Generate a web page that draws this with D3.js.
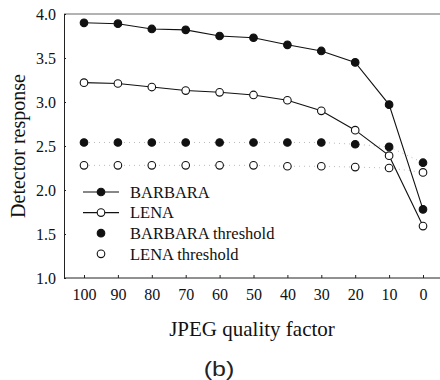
<!DOCTYPE html>
<html><head><meta charset="utf-8">
<script src="https://cdn.jsdelivr.net/npm/d3@7"></script>
<style>body{margin:0;background:#fff}svg{display:block}</style>
</head><body>
<script>
const qualities = [100, 90, 80, 70, 60, 50, 40, 30, 20, 10, 0];
const barbara = [3.90, 3.89, 3.83, 3.82, 3.75, 3.73, 3.65, 3.58, 3.45, 2.97, 1.78];
const lena = [3.22, 3.21, 3.17, 3.13, 3.11, 3.08, 3.02, 2.90, 2.68, 2.39, 1.59];
const barbaraThr = [2.54, 2.54, 2.54, 2.54, 2.54, 2.54, 2.54, 2.54, 2.52, 2.49, 2.31];
const lenaThr = [2.28, 2.28, 2.28, 2.28, 2.28, 2.28, 2.27, 2.27, 2.26, 2.25, 2.20];
const yTicks = [1.0, 1.5, 2.0, 2.5, 3.0, 3.5, 4.0];
const legendLabels = ["BARBARA", "LENA", "BARBARA threshold", "LENA threshold"];

const W = 440, H = 380;
const svg = d3.select("body").append("svg").attr("width", W).attr("height", H);
const x = d3.scaleLinear().domain([100, 0]).range([84, 423]);
const y = d3.scaleLinear().domain([1, 4]).range([278, 14]);
const serif = "'Liberation Serif', 'Times New Roman', serif";

// frame: top line
svg.append("line").attr("x1", 64).attr("x2", 440).attr("y1", 14).attr("y2", 14)
  .attr("stroke", "#666").attr("stroke-width", 1);

// y axis
const ya = svg.append("g").attr("transform", "translate(64,0)")
  .call(d3.axisLeft(y).tickValues(yTicks).tickFormat(d3.format(".1f")).tickSize(-2).tickPadding(8));
ya.select(".domain").attr("stroke", "#222");
ya.selectAll(".tick line").attr("stroke", "#222");
ya.selectAll("text").attr("font-family", serif).attr("font-size", 16).attr("fill", "#111");

// x axis
const xa = svg.append("g").attr("transform", "translate(0,278)")
  .call(d3.axisBottom(x).tickValues(qualities).tickSize(-3).tickPadding(11));
xa.select(".domain").attr("d", "M64,0H440").attr("stroke", "#222");
xa.selectAll(".tick line").attr("stroke", "#222");
xa.selectAll("text").attr("font-family", serif).attr("font-size", 16).attr("fill", "#111");

// threshold dotted lines
const line = d3.line().x((d, i) => x(qualities[i])).y(d => y(d));
[barbaraThr, lenaThr].forEach(s => {
  svg.append("path").attr("d", line(s)).attr("fill", "none")
    .attr("stroke", "#bbb").attr("stroke-width", 1).attr("stroke-dasharray", "1,4");
});

// series lines
[barbara, lena].forEach(s => {
  svg.append("path").attr("d", line(s)).attr("fill", "none")
    .attr("stroke", "#111").attr("stroke-width", 1.1);
});

function dots(s, filled) {
  svg.append("g").selectAll("circle").data(s).join("circle")
    .attr("cx", (d, i) => x(qualities[i])).attr("cy", d => y(d)).attr("r", 3.8)
    .attr("fill", filled ? "#111" : "#fff").attr("stroke", "#111").attr("stroke-width", 1.1);
}
dots(barbaraThr, true);
dots(lenaThr, false);
dots(barbara, true);
dots(lena, false);

// legend
const lg = svg.append("g");
const rows = [
  {label: legendLabels[0], line: true, filled: true},
  {label: legendLabels[1], line: true, filled: false},
  {label: legendLabels[2], line: false, filled: true},
  {label: legendLabels[3], line: false, filled: false}
];
rows.forEach((r, i) => {
  const cy = 192 + i * 20.6;
  if (r.line) lg.append("line").attr("x1", 83).attr("x2", 119).attr("y1", cy).attr("y2", cy)
    .attr("stroke", "#111").attr("stroke-width", 1.1);
  lg.append("circle").attr("cx", 101).attr("cy", cy).attr("r", 3.8)
    .attr("fill", r.filled ? "#111" : "#fff").attr("stroke", "#111").attr("stroke-width", 1.1);
  lg.append("text").attr("x", 130).attr("y", cy).attr("dy", "0.35em")
    .attr("font-family", serif).attr("font-size", 16.5).attr("fill", "#111").text(r.label);
});

// axis titles
svg.append("text").attr("transform", "translate(18,146) rotate(-90)").attr("text-anchor", "middle")
  .attr("dy", "0.35em").attr("font-family", serif).attr("font-size", 20).attr("fill", "#111")
  .text("Detector response");
svg.append("text").attr("x", 252).attr("y", 329).attr("text-anchor", "middle").attr("dy", "0.35em")
  .attr("font-family", serif).attr("font-size", 21).attr("fill", "#111").text("JPEG quality factor");
svg.append("text").attr("transform", "translate(219,369) scale(1.25,1)").attr("text-anchor", "middle").attr("dy", "0.35em")
  .attr("font-family", "'Liberation Sans', Arial, sans-serif").attr("font-size", 20).attr("fill", "#222").text("(b)");
</script>
</body></html>
